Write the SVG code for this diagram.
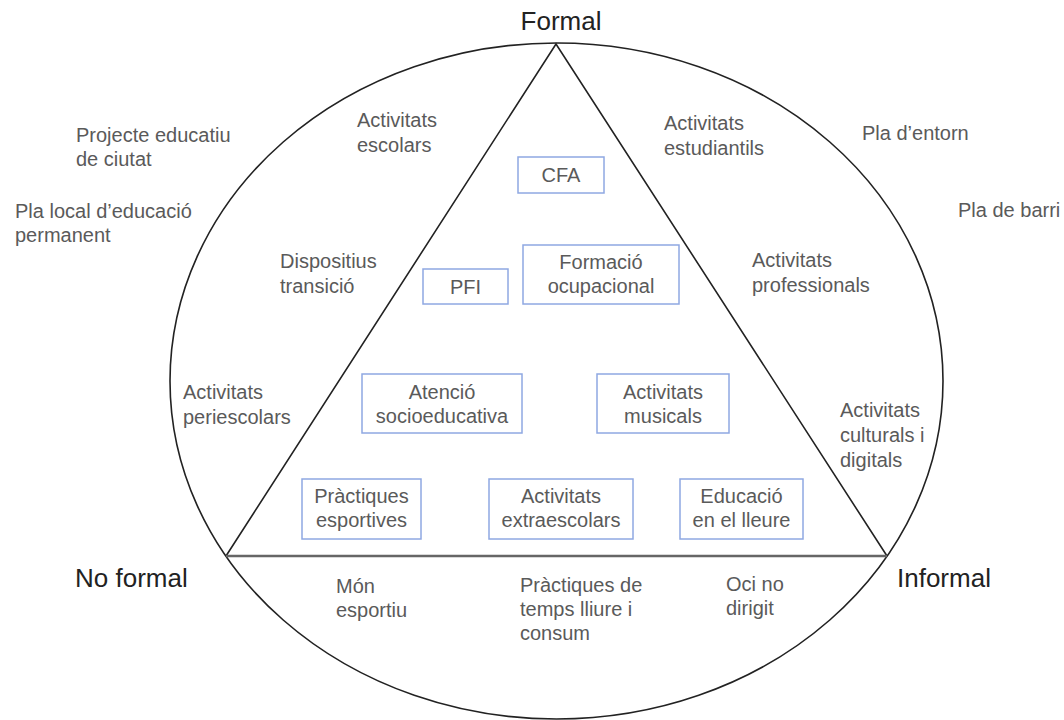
<svg xmlns="http://www.w3.org/2000/svg" width="1064" height="720" viewBox="0 0 1064 720">
<style>
.lbl{font-family:"Liberation Sans",Arial,sans-serif;font-size:20px;fill:#5a5a5a}
.ttl{font-family:"Liberation Sans",Arial,sans-serif;font-size:26px;fill:#222}
.box{fill:#fff;stroke:#8fa8e2;stroke-width:1.5}
.mid{text-anchor:middle}
</style>
<rect width="1064" height="720" fill="#fff"/>
<g id="connectors" fill="none">
<ellipse cx="556.5" cy="381" rx="386.5" ry="338" stroke="#222" stroke-width="1.6"/>
<path d="M226 556 L556 44 L887 556" stroke="#222" stroke-width="1.6"/>
<line x1="226" y1="556" x2="887" y2="556" stroke="#666" stroke-width="2.5"/>
</g>
<g id="formal"><text class="ttl mid" x="561" y="30">Formal</text></g>
<g id="noformal"><text class="ttl" x="75" y="587">No formal</text></g>
<g id="informal"><text class="ttl" x="897" y="587">Informal</text></g>
<g id="projecte"><text class="lbl" x="76" y="142">Projecte educatiu<tspan x="76" y="166">de ciutat</tspan></text></g>
<g id="plalocal"><text class="lbl" x="15" y="218">Pla local d’educació<tspan x="15" y="242">permanent</tspan></text></g>
<g id="escolars"><text class="lbl" x="357" y="127">Activitats<tspan x="357" y="152">escolars</tspan></text></g>
<g id="estudiantils"><text class="lbl" x="664" y="130">Activitats<tspan x="664" y="155">estudiantils</tspan></text></g>
<g id="entorn"><text class="lbl" x="862" y="140">Pla d’entorn</text></g>
<g id="barri"><text class="lbl" x="958" y="217">Pla de barri</text></g>
<g id="dispositius"><text class="lbl" x="280" y="268">Dispositius<tspan x="280" y="293">transició</tspan></text></g>
<g id="professionals"><text class="lbl" x="752" y="267">Activitats<tspan x="752" y="292">professionals</tspan></text></g>
<g id="periescolars"><text class="lbl" x="183" y="399">Activitats<tspan x="183" y="424">periescolars</tspan></text></g>
<g id="culturals"><text class="lbl" x="840" y="417">Activitats<tspan x="840" y="442">culturals i</tspan><tspan x="840" y="467">digitals</tspan></text></g>
<g id="cfa"><rect class="box" x="518" y="157" width="86" height="36"/><text class="lbl mid" x="561" y="182">CFA</text></g>
<g id="pfi"><rect class="box" x="423" y="269" width="85" height="35"/><text class="lbl mid" x="465.5" y="294">PFI</text></g>
<g id="formacio"><rect class="box" x="523" y="245" width="156" height="59"/><text class="lbl mid" x="601" y="269">Formació<tspan x="601" y="293">ocupacional</tspan></text></g>
<g id="atencio"><rect class="box" x="362" y="374" width="160" height="59"/><text class="lbl mid" x="442" y="399">Atenció<tspan x="442" y="423">socioeducativa</tspan></text></g>
<g id="musicals"><rect class="box" x="597" y="374" width="132" height="59"/><text class="lbl mid" x="663" y="399">Activitats<tspan x="663" y="423">musicals</tspan></text></g>
<g id="esportives"><rect class="box" x="302" y="479" width="119" height="60"/><text class="lbl mid" x="361.5" y="503">Pràctiques<tspan x="361.5" y="527">esportives</tspan></text></g>
<g id="extraescolars"><rect class="box" x="489" y="479" width="144" height="60"/><text class="lbl mid" x="561" y="503">Activitats<tspan x="561" y="527">extraescolars</tspan></text></g>
<g id="lleure"><rect class="box" x="680" y="479" width="123" height="60"/><text class="lbl mid" x="741.5" y="503">Educació<tspan x="741.5" y="527">en el lleure</tspan></text></g>
<g id="mon"><text class="lbl" x="336" y="593">Món<tspan x="336" y="617">esportiu</tspan></text></g>
<g id="temps"><text class="lbl" x="520" y="592">Pràctiques de<tspan x="520" y="616">temps lliure i</tspan><tspan x="520" y="640">consum</tspan></text></g>
<g id="oci"><text class="lbl" x="726" y="591">Oci no<tspan x="726" y="615">dirigit</tspan></text></g>
</svg>
